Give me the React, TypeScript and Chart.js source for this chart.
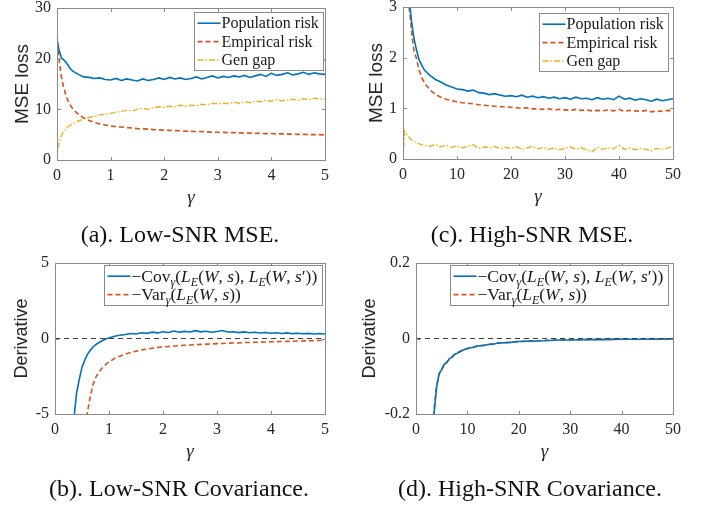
import React, { useEffect, useRef } from 'react';
import { Chart, registerables } from 'chart.js';

Chart.register(...registerables);

// ---------------- data ----------------
// (a) Low-SNR MSE
const A_X = [0, 0.02, 0.05, 0.08, 0.12, 0.16, 0.2, 0.25, 0.3, 0.35, 0.4, 0.5, 0.6, 0.7, 0.8, 0.9, 1.0,
  1.1, 1.2, 1.3, 1.4, 1.5, 1.6, 1.7, 1.8, 1.9, 2.0, 2.1, 2.2, 2.3, 2.4, 2.5, 2.6, 2.7, 2.8, 2.9, 3.0,
  3.1, 3.2, 3.3, 3.4, 3.5, 3.6, 3.7, 3.8, 3.9, 4.0, 4.1, 4.2, 4.3, 4.4, 4.5, 4.6, 4.7, 4.8, 4.9, 5.0];
const A_POP = [24.0, 22.5, 21.3, 20.2, 19.8, 19.4, 18.8, 18.0, 17.5, 17.2, 16.9, 16.4, 16.3, 16.1, 16.2, 15.9, 15.8,
  16.1, 15.7, 16.0, 15.8, 15.6, 16.0, 15.7, 15.9, 16.2, 15.9,
  16.3, 16.0, 16.2, 15.9, 16.1, 16.4, 16.0, 16.3, 16.6, 16.2,
  16.5, 16.3, 16.6, 16.4, 16.7, 16.3, 16.6, 16.9, 16.5, 17.1,
  16.7, 16.9, 17.2, 16.8, 17.0, 17.3, 16.9, 17.2, 17.0, 16.9];
const A_EMP = [24.8, 22.0, 19.0, 16.5, 14.5, 13.0, 11.8, 10.8, 10.0, 9.5, 9.0, 8.3, 7.8, 7.4, 7.1, 6.9, 6.7,
  6.6, 6.5, 6.4, 6.3, 6.2, 6.15, 6.1, 6.0, 5.95, 5.9,
  5.85, 5.8, 5.77, 5.7, 5.65, 5.62, 5.6, 5.55, 5.5, 5.47,
  5.45, 5.4, 5.42, 5.35, 5.3, 5.32, 5.25, 5.27, 5.2, 5.22,
  5.15, 5.17, 5.1, 5.12, 5.05, 5.07, 5.0, 5.02, 5.0, 4.95];
const A_GAP = [0, 2.5, 3.8, 4.8, 5.6, 6.0, 6.5, 6.9, 7.2, 7.5, 7.7, 8.1, 8.4, 8.6, 8.9, 9.0, 9.2,
  9.4, 9.6, 9.8, 9.7, 10.0, 10.2, 10.0, 10.3, 10.5, 10.4,
  10.6, 10.5, 10.8, 10.6, 10.8, 10.7, 11.0, 10.9, 11.2, 11.1,
  11.2, 11.1, 11.4, 11.2, 11.5, 11.3, 11.6, 11.5, 11.8, 11.6,
  11.9, 11.7, 11.8, 12.0, 11.8, 12.1, 11.9, 12.2, 12.0, 12.1];

// (c) High-SNR MSE
const C_X = [0, 0.3, 0.6, 1.0, 1.3, 1.6, 2.0, 2.5, 3.0, 3.5, 4, 5, 6, 7, 8, 9, 10,
  11, 12, 13, 14, 15, 16, 17, 18, 19, 20, 21, 22, 23, 24, 25, 26, 27, 28, 29, 30,
  31, 32, 33, 34, 35, 36, 37, 38, 39, 40, 41, 42, 43, 44, 45, 46, 47, 48, 49, 50];
const C_POP = [8, 6, 4.5, 3.3, 3.0, 2.7, 2.4, 2.15, 1.95, 1.85, 1.75, 1.65, 1.57, 1.52, 1.46, 1.42, 1.38,
  1.37, 1.34, 1.36, 1.31, 1.30, 1.27, 1.29, 1.26, 1.24, 1.25,
  1.23, 1.26, 1.22, 1.24, 1.21, 1.23, 1.20, 1.22, 1.19, 1.21,
  1.18, 1.22, 1.19, 1.20, 1.17, 1.21, 1.18, 1.20, 1.17, 1.24,
  1.18, 1.20, 1.16, 1.19, 1.17, 1.14, 1.18, 1.15, 1.17, 1.19];
const C_EMP = [9, 6.5, 4.5, 3.1, 2.85, 2.5, 2.15, 1.98, 1.75, 1.6, 1.5, 1.36, 1.28, 1.22, 1.18, 1.15, 1.13,
  1.11, 1.10, 1.09, 1.07, 1.06, 1.05, 1.04, 1.03, 1.03, 1.02,
  1.01, 1.00, 1.01, 0.99, 0.99, 0.98, 0.99, 0.97, 0.98, 0.97,
  0.96, 0.98, 0.96, 0.97, 0.95, 0.96, 0.95, 0.97, 0.95, 0.98,
  0.94, 0.96, 0.95, 0.94, 0.96, 0.93, 0.95, 0.94, 0.96, 0.95];
const C_GAP = [0, 0.55, 0.5, 0.45, 0.40, 0.37, 0.35, 0.32, 0.30, 0.28, 0.27, 0.25, 0.29, 0.24, 0.27, 0.23, 0.26,
  0.22, 0.25, 0.28, 0.21, 0.24, 0.22, 0.25, 0.20, 0.23, 0.21,
  0.24, 0.19, 0.22, 0.25, 0.20, 0.23, 0.19, 0.22, 0.18, 0.21,
  0.24, 0.19, 0.22, 0.18, 0.14, 0.23, 0.19, 0.22, 0.20, 0.27,
  0.19, 0.22, 0.18, 0.21, 0.19, 0.16, 0.21, 0.19, 0.22, 0.25];

// (b) Low-SNR covariance
const B_X = [0.3, 0.35, 0.4, 0.45, 0.5, 0.55, 0.6, 0.65, 0.7, 0.75, 0.8, 0.85, 0.9, 0.95, 1.0,
  1.1, 1.2, 1.3, 1.4, 1.5, 1.6, 1.7, 1.8, 1.9, 2.0, 2.1, 2.2, 2.3, 2.4, 2.5, 2.6, 2.7, 2.8, 2.9, 3.0,
  3.1, 3.2, 3.3, 3.4, 3.5, 3.6, 3.7, 3.8, 3.9, 4.0, 4.1, 4.2, 4.3, 4.4, 4.5, 4.6, 4.7, 4.8, 4.9, 5.0];
const B_COV = [-7, -5.3, -3.6, -2.7, -1.9, -1.45, -1.05, -0.8, -0.58, -0.42, -0.3, -0.2, -0.1, -0.02, 0.04,
  0.15, 0.22, 0.27, 0.33, 0.3, 0.38, 0.34, 0.42, 0.37, 0.45,
  0.4, 0.5, 0.42, 0.47, 0.43, 0.52, 0.44, 0.48, 0.41, 0.46,
  0.53, 0.43, 0.45, 0.39, 0.44, 0.38, 0.41, 0.36, 0.4, 0.35,
  0.38, 0.33, 0.37, 0.32, 0.35, 0.31, 0.34, 0.3, 0.33, 0.3];
const B_VAR = [-20, -16, -13, -10, -8, -6.3, -4.9, -3.9, -3.1, -2.6, -2.3, -2.05, -1.85, -1.68, -1.55,
  -1.33, -1.17, -1.04, -0.93, -0.84, -0.76, -0.7, -0.65, -0.6, -0.56,
  -0.53, -0.5, -0.47, -0.45, -0.43, -0.41, -0.39, -0.37, -0.36, -0.34,
  -0.33, -0.31, -0.3, -0.29, -0.27, -0.26, -0.25, -0.24, -0.23, -0.22,
  -0.21, -0.2, -0.19, -0.18, -0.17, -0.16, -0.15, -0.14, -0.13, -0.12];

// (d) High-SNR covariance
const D_X = [3, 3.5, 4, 4.5, 5, 5.5, 6, 6.5, 7, 7.5, 8, 9, 10, 11, 12, 13, 14, 15, 16, 18, 20, 22, 25, 28, 30, 33, 36, 40, 43, 46, 50];
const D_COV = [-0.28, -0.2, -0.13, -0.092, -0.083, -0.068, -0.064, -0.053, -0.05, -0.042, -0.039, -0.032, -0.026, -0.024, -0.02,
  -0.019, -0.016, -0.015, -0.012, -0.011, -0.008, -0.007, -0.006, -0.004, -0.004, -0.003, -0.003, -0.002, -0.002, -0.002, -0.001];
const D_VAR = [-0.27, -0.19, -0.125, -0.095, -0.08, -0.07, -0.062, -0.055, -0.048, -0.043, -0.038, -0.031, -0.027, -0.023, -0.02,
  -0.018, -0.016, -0.014, -0.012, -0.01, -0.008, -0.007, -0.005, -0.004, -0.0035, -0.003, -0.0025, -0.002, -0.0018, -0.0015, -0.0012];

// zero reference lines
const ZERO_X_LOW = [0, 5];
const ZERO_X_HIGH = [0, 50];
const ZERO_Y = [0, 0];

// tick settings
const X_TICKS_LOW = { min: 0, max: 5, step: 1 };
const X_TICKS_HIGH = { min: 0, max: 50, step: 10 };
const Y_TICKS_A = { min: 0, max: 30, step: 10 };
const Y_TICKS_C = { min: 0, max: 3, step: 1 };
const Y_TICKS_B = { min: -5, max: 5, step: 5 };
const Y_TICKS_D = { min: -0.2, max: 0.2, step: 0.2 };

// ---------------- styling ----------------
const BLUE = '#0072BD';
const ORANGE = '#D95319';
const YELLOW = '#EDB120';
const SERIF = '"Liberation Serif", "Times New Roman", serif';
const SANS = '"Liberation Sans", Arial, sans-serif';
const TXT = '#262626';
const BOX = '#8a8a8a';

type Seg = { t: string; it?: boolean; sub?: boolean };
const LBL_POP: Seg[] = [{ t: 'Population risk' }];
const LBL_EMP: Seg[] = [{ t: 'Empirical risk' }];
const LBL_GAP: Seg[] = [{ t: 'Gen gap' }];
const LBL_COV: Seg[] = [
  { t: '\u2212Cov' }, { t: '\u03b3', it: true, sub: true }, { t: '(' }, { t: 'L', it: true }, { t: 'E', it: true, sub: true },
  { t: '(' }, { t: 'W', it: true }, { t: ', ' }, { t: 's', it: true }, { t: '), ' }, { t: 'L', it: true },
  { t: 'E', it: true, sub: true }, { t: '(' }, { t: 'W', it: true }, { t: ', ' }, { t: 's', it: true }, { t: '\u2032' }, { t: '))' },
];
const LBL_VAR: Seg[] = [
  { t: '\u2212Var' }, { t: '\u03b3', it: true, sub: true }, { t: '(' }, { t: 'L', it: true }, { t: 'E', it: true, sub: true },
  { t: '(' }, { t: 'W', it: true }, { t: ', ' }, { t: 's', it: true }, { t: '))' },
];

const SOLID: number[] = [];
const DASH = [5, 3];
const DASHDOT = [6, 2, 1.5, 2];

function segFont(s: Seg, fs: number) {
  return `${s.it ? 'italic ' : ''}${s.sub ? Math.round(fs * 0.7) : fs}px ${SERIF}`;
}

const axisBoxPlugin = {
  id: 'axisBox',
  afterDatasetsDraw(chart: any) {
    const { ctx, chartArea: a, scales } = chart;
    ctx.save();
    ctx.strokeStyle = BOX;
    ctx.lineWidth = 1;
    ctx.setLineDash([]);
    const L = 3.5;
    const l = Math.round(a.left) + 0.5, r = Math.round(a.right) + 0.5;
    const t = Math.round(a.top) + 0.5, b = Math.round(a.bottom) + 0.5;
    ctx.beginPath();
    scales.x.ticks.forEach((tk: any) => {
      const px = Math.round(scales.x.getPixelForValue(tk.value)) + 0.5;
      ctx.moveTo(px, b); ctx.lineTo(px, b - L);
      ctx.moveTo(px, t); ctx.lineTo(px, t + L);
    });
    scales.y.ticks.forEach((tk: any) => {
      const py = Math.round(scales.y.getPixelForValue(tk.value)) + 0.5;
      ctx.moveTo(l, py); ctx.lineTo(l + L, py);
      ctx.moveTo(r, py); ctx.lineTo(r - L, py);
    });
    ctx.stroke();
    ctx.strokeRect(l, t, r - l, b - t);
    ctx.restore();
  },
};

const legendPlugin = {
  id: 'boxLegend',
  afterDraw(chart: any, _args: any, opts: any) {
    const { ctx, chartArea } = chart;
    const items = opts.items as { color: string; dash: number[]; width: number; segs: Seg[] }[];
    if (!items) return;
    const fs: number = opts.fontSize || 16;
    ctx.save();
    const measure = (segs: Seg[]) => {
      let w = 0;
      segs.forEach((sg) => { ctx.font = segFont(sg, fs); w += ctx.measureText(sg.t).width; });
      return w;
    };
    const tw = Math.max(...items.map((it) => measure(it.segs)));
    const rowH = 18.4;
    const w = Math.round(27 + tw + 5);
    const h = Math.round(items.length * rowH + 3);
    const x0 = Math.round(chartArea.right - opts.insetR - w) + 0.5;
    const y0 = Math.round(chartArea.top + opts.insetT) + 0.5;
    ctx.fillStyle = '#fff';
    ctx.fillRect(x0, y0, w, h);
    ctx.strokeStyle = BOX;
    ctx.lineWidth = 1;
    ctx.strokeRect(x0, y0, w, h);
    items.forEach((it, i) => {
      const cy = y0 + 1.5 + rowH * (i + 0.5);
      ctx.beginPath();
      ctx.setLineDash(it.dash);
      ctx.strokeStyle = it.color;
      ctx.lineWidth = it.width;
      ctx.moveTo(x0 + 3, cy);
      ctx.lineTo(x0 + 26, cy);
      ctx.stroke();
      ctx.setLineDash([]);
      let x = x0 + 27;
      ctx.fillStyle = '#1a1a1a';
      ctx.textBaseline = 'alphabetic';
      ctx.textAlign = 'left';
      const base = cy + fs * 0.32;
      it.segs.forEach((sg) => {
        ctx.font = segFont(sg, fs);
        ctx.fillText(sg.t, x, base + (sg.sub ? fs * 0.22 : 0));
        x += ctx.measureText(sg.t).width;
      });
    });
    ctx.restore();
  },
};

type Series = { xs: number[]; ys: number[]; color: string; dash: number[]; width: number; segs?: Seg[] };
type Spec = {
  left: number; top: number;
  series: Series[];
  zero?: { xs: number[]; ys: number[] };
  xt: { min: number; max: number; step: number };
  yt: { min: number; max: number; step: number };
  yTitle: string; yTitleSize: number; yTitleCx: number; yAxisW: number;
  pad: { top: number; right: number; bottom: number };
  legend: { insetR: number; insetT: number; fontSize: number };
};

const W = 353, H = 254;

function pts(xs: number[], ys: number[]) {
  return xs.map((x, i) => ({ x, y: ys[i] }));
}

function fmt(v: number) {
  const r = Math.round(v * 1000) / 1000;
  return r === 0 ? '0' : String(r);
}

function makeConfig(s: Spec): any {
  const datasets: any[] = [];
  if (s.zero) {
    datasets.push({
      data: pts(s.zero.xs, s.zero.ys), borderColor: '#404040', borderWidth: 1, borderDash: [5, 4],
      pointRadius: 0, fill: false, tension: 0,
    });
  }
  s.series.forEach((se) => {
    datasets.push({
      data: pts(se.xs, se.ys), borderColor: se.color, borderWidth: se.width, borderDash: se.dash,
      pointRadius: 0, fill: false, tension: 0,
    });
  });
  const yLh = s.yTitleSize * 1.2;
  return {
    type: 'line',
    data: { datasets },
    options: {
      animation: false,
      responsive: false,
      events: [],
      layout: { padding: { left: 0, top: s.pad.top, right: s.pad.right, bottom: s.pad.bottom } },
      plugins: {
        legend: { display: false },
        tooltip: { enabled: false },
        boxLegend: {
          insetR: s.legend.insetR, insetT: s.legend.insetT, fontSize: s.legend.fontSize,
          items: s.series.map((se) => ({ color: se.color, dash: se.dash, width: se.width, segs: se.segs || [] })),
        },
      },
      scales: {
        x: {
          type: 'linear', min: s.xt.min, max: s.xt.max,
          ticks: { stepSize: s.xt.step, autoSkip: false, maxRotation: 0, padding: 6.2, color: TXT, font: { family: SERIF, size: 16 }, callback: (v: any) => fmt(Number(v)) },
          grid: { display: false, drawTicks: false }, border: { display: false },
          title: { display: true, text: '\u03b3', color: TXT, font: { family: SERIF, size: 19, style: 'italic' }, padding: { top: 0, bottom: 0.5 } },
          afterFit: (sc: any) => { sc.height = 50; sc.paddingLeft = 0; sc.paddingRight = 0; },
        },
        y: {
          type: 'linear', min: s.yt.min, max: s.yt.max,
          ticks: { stepSize: s.yt.step, autoSkip: false, padding: 6, color: TXT, font: { family: SERIF, size: 16 }, callback: (v: any) => fmt(Number(v)) },
          grid: { display: false, drawTicks: false }, border: { display: false },
          title: { display: true, text: s.yTitle, color: TXT, font: { family: SANS, size: s.yTitleSize }, padding: { top: s.yTitleCx - yLh / 2, bottom: 0 } },
          afterFit: (sc: any) => { sc.width = s.yAxisW; sc.paddingTop = 0; sc.paddingBottom = 0; },
        },
      },
    },
    plugins: [axisBoxPlugin, legendPlugin],
  };
}

const SPECS: Spec[] = [
  {
    left: 0, top: 0,
    series: [
      { xs: A_X, ys: A_POP, color: BLUE, dash: SOLID, width: 1.6, segs: LBL_POP },
      { xs: A_X, ys: A_EMP, color: ORANGE, dash: DASH, width: 1.6, segs: LBL_EMP },
      { xs: A_X, ys: A_GAP, color: YELLOW, dash: DASHDOT, width: 1.4, segs: LBL_GAP },
    ],
    xt: X_TICKS_LOW, yt: Y_TICKS_A,
    yTitle: 'MSE loss', yTitleSize: 19, yTitleCx: 23, yAxisW: 57,
    pad: { top: 8, right: 28, bottom: 44 },
    legend: { insetR: 2, insetT: 4, fontSize: 16 },
  },
  {
    left: 353, top: 0,
    series: [
      { xs: C_X, ys: C_POP, color: BLUE, dash: SOLID, width: 1.6, segs: LBL_POP },
      { xs: C_X, ys: C_EMP, color: ORANGE, dash: DASH, width: 1.6, segs: LBL_EMP },
      { xs: C_X, ys: C_GAP, color: YELLOW, dash: DASHDOT, width: 1.4, segs: LBL_GAP },
    ],
    xt: X_TICKS_HIGH, yt: Y_TICKS_C,
    yTitle: 'MSE loss', yTitleSize: 19, yTitleCx: 24, yAxisW: 50,
    pad: { top: 7, right: 33, bottom: 45 },
    legend: { insetR: 5, insetT: 6, fontSize: 16 },
  },
  {
    left: 0, top: 254,
    zero: { xs: ZERO_X_LOW, ys: ZERO_Y },
    series: [
      { xs: B_X, ys: B_COV, color: BLUE, dash: SOLID, width: 1.6, segs: LBL_COV },
      { xs: B_X, ys: B_VAR, color: ORANGE, dash: DASH, width: 1.6, segs: LBL_VAR },
    ],
    xt: X_TICKS_LOW, yt: Y_TICKS_B,
    yTitle: 'Derivative', yTitleSize: 18, yTitleCx: 22, yAxisW: 55,
    pad: { top: 9, right: 28, bottom: 44 },
    legend: { insetR: 3, insetT: 2, fontSize: 17.5 },
  },
  {
    left: 353, top: 254,
    zero: { xs: ZERO_X_HIGH, ys: ZERO_Y },
    series: [
      { xs: D_X, ys: D_COV, color: BLUE, dash: SOLID, width: 1.6, segs: LBL_COV },
      { xs: D_X, ys: D_VAR, color: ORANGE, dash: DASH, width: 1.6, segs: LBL_VAR },
    ],
    xt: X_TICKS_HIGH, yt: Y_TICKS_D,
    yTitle: 'Derivative', yTitleSize: 18, yTitleCx: 17, yAxisW: 63,
    pad: { top: 9, right: 33, bottom: 44 },
    legend: { insetR: 5, insetT: 2, fontSize: 17.5 },
  },
];

const CAPTIONS = [
  { text: '(a). Low-SNR MSE.', cx: 180, base: 242 },
  { text: '(c). High-SNR MSE.', cx: 532, base: 242 },
  { text: '(b). Low-SNR Covariance.', cx: 179, base: 496 },
  { text: '(d). High-SNR Covariance.', cx: 530, base: 496 },
];

function Panel({ spec }: { spec: Spec }) {
  const ref = useRef<HTMLCanvasElement>(null);
  useEffect(() => {
    const chart = new Chart(ref.current as HTMLCanvasElement, makeConfig(spec));
    return () => chart.destroy();
  }, [spec]);
  return (
    <canvas
      ref={ref}
      width={W}
      height={H}
      style={{ position: 'absolute', left: spec.left, top: spec.top, width: W, height: H }}
    />
  );
}

export default function App() {
  return (
    <div style={{ position: 'fixed', left: 0, top: 0, width: 706, height: 508, background: '#fff', overflow: 'hidden' }}>
      {SPECS.map((s, i) => <Panel key={i} spec={s} />)}
      {CAPTIONS.map((c, i) => (
        <div
          key={i}
          style={{
            position: 'absolute', left: c.cx - 200, width: 400, top: c.base - 20, height: 25,
            textAlign: 'center', fontFamily: SERIF, fontSize: 24, lineHeight: '24px', color: '#111', whiteSpace: 'nowrap',
          }}
        >
          {c.text}
        </div>
      ))}
    </div>
  );
}
